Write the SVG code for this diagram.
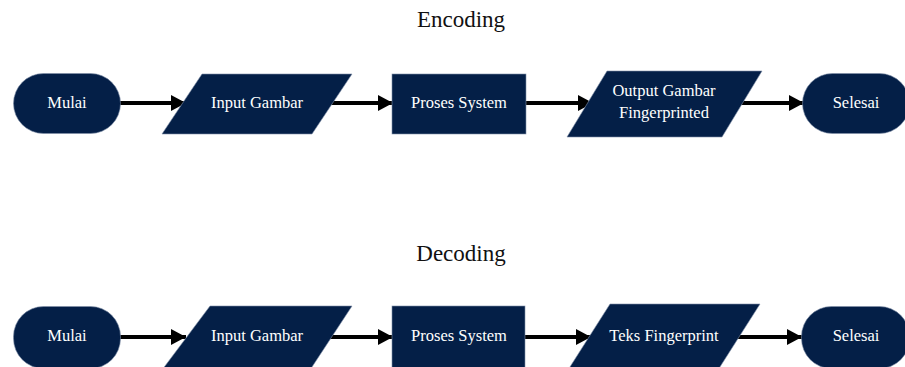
<svg xmlns="http://www.w3.org/2000/svg" width="905" height="367" viewBox="0 0 905 367">
  <style>
    .shape { fill: #041f47; stroke: #7f8fa8; stroke-width: 0.6; }
    .label { fill: #ffffff; font-family: "Liberation Serif", "Times New Roman", serif; font-size: 16.5px; text-anchor: middle; }
    .title { fill: #111111; font-family: "Liberation Serif", "Times New Roman", serif; font-size: 23px; text-anchor: middle; }
    .conn { stroke: #000000; stroke-width: 4; fill: none; marker-end: url(#arrow); }
  </style>
  <defs>
    <marker id="arrow" markerUnits="userSpaceOnUse" markerWidth="18" markerHeight="20" refX="16" refY="10" orient="auto">
      <path d="M1,2 L16,10 L1,18 Z" fill="#000000"/>
    </marker>
  </defs>
  <rect width="905" height="367" fill="#ffffff"/>

  <text class="title" x="461" y="27">Encoding</text>
  <text class="title" x="461" y="261">Decoding</text>

  <!-- connectors -->
  <g id="connectors">
    <line class="conn" x1="120" y1="103" x2="186" y2="103"/>
    <line class="conn" x1="328" y1="103" x2="393" y2="103"/>
    <line class="conn" x1="526" y1="103" x2="593" y2="103"/>
    <line class="conn" x1="740" y1="103" x2="804" y2="103"/>
    <line class="conn" x1="120" y1="337" x2="186" y2="337"/>
    <line class="conn" x1="328" y1="337" x2="393" y2="337"/>
    <line class="conn" x1="525" y1="337" x2="591" y2="337"/>
    <line class="conn" x1="736" y1="337" x2="802" y2="337"/>
  </g>

  <!-- encoding flow -->
  <g id="enc-mulai">
    <rect class="shape" x="13.5" y="73.5" width="107" height="60" rx="30" ry="30"/>
    <text class="label" x="67" y="108">Mulai</text>
  </g>
  <g id="enc-input">
    <polygon class="shape" points="202,74 352,74 312,134 162,134"/>
    <text class="label" x="257" y="108">Input Gambar</text>
  </g>
  <g id="enc-proses">
    <rect class="shape" x="392" y="74" width="134" height="60"/>
    <text class="label" x="459" y="108">Proses System</text>
  </g>
  <g id="enc-output">
    <polygon class="shape" points="607,71 762,71 722,137 567,137"/>
    <text class="label" x="664" y="96">Output Gambar</text>
    <text class="label" x="664" y="118">Fingerprinted</text>
  </g>
  <g id="enc-selesai">
    <rect class="shape" x="802.5" y="73.5" width="107" height="60" rx="30" ry="30"/>
    <text class="label" x="856" y="108">Selesai</text>
  </g>

  <!-- decoding flow -->
  <g id="dec-mulai">
    <rect class="shape" x="13.5" y="306.5" width="107" height="62" rx="30" ry="30"/>
    <text class="label" x="67" y="341">Mulai</text>
  </g>
  <g id="dec-input">
    <polygon class="shape" points="210,306 352,306 310,370 162,370"/>
    <text class="label" x="257" y="341">Input Gambar</text>
  </g>
  <g id="dec-proses">
    <rect class="shape" x="392" y="306" width="133" height="64"/>
    <text class="label" x="459" y="341">Proses System</text>
  </g>
  <g id="dec-teks">
    <polygon class="shape" points="610,304 760,304 718,370 568,370"/>
    <text class="label" x="664" y="341">Teks Fingerprint</text>
  </g>
  <g id="dec-selesai">
    <rect class="shape" x="801.5" y="306.5" width="108" height="62" rx="30" ry="30"/>
    <text class="label" x="856" y="341">Selesai</text>
  </g>
</svg>
